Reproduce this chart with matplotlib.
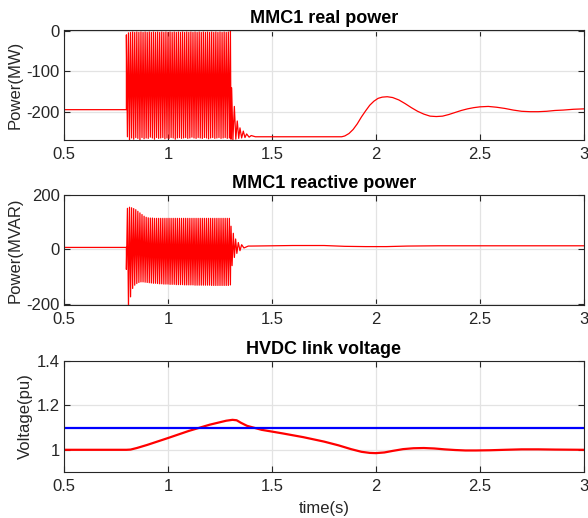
import numpy as np
import matplotlib
matplotlib.use("Agg")
import matplotlib.pyplot as plt

plt.rcParams['font.family'] = ['Liberation Sans', 'DejaVu Sans']
plt.rcParams['axes.unicode_minus'] = False

# ---------------- data ----------------
xticks = [0.5, 1, 1.5, 2, 2.5, 3]
xtick_labels = ["0.5", "1", "1.5", "2", "2.5", "3"]

# MMC1 real power (MW)
rp_pre_t = [0.5, 0.8]
rp_pre = [-195, -195]
# oscillation peaks: upper peaks from 0.800 to 1.300, lower peaks from 0.805 to 1.295
rp_upper = [-10, -5, -4, -3, -4, -3, -4, -3, -4, -3, -4, -3, -4, -3, -4, -3, -4,
            -3, -4, -3, -4, -3, -4, -3, -4, -3, -4, -3, -4, -3, -4, -3, -4, -3,
            -4, -3, -4, -3, -4, -3, -4, -3, -4, -3, -4, -3, -4, -3, -4, -3, 2]
rp_lower = [-262, -272, -265, -268, -264, -266, -270, -264, -267, -265, -266, -263,
            -265, -268, -264, -266, -265, -264, -267, -265, -266, -264, -265, -268,
            -265, -264, -266, -265, -264, -266, -265, -263, -265, -266, -264, -265,
            -266, -264, -265, -267, -265, -264, -266, -265, -264, -266, -265, -264,
            -266, -265]
rp_tail_t = [1.303, 1.306, 1.312, 1.319, 1.326, 1.333, 1.340, 1.346, 1.354, 1.362,
             1.370, 1.378, 1.39, 1.40, 1.42, 1.45]
rp_tail = [-268, -141, -270, -187, -268, -223, -266, -240, -265, -248, -264, -255,
           -263, -259, -262, -262]
rp_post_t = [1.45, 1.80, 1.835, 1.85, 1.87, 1.89, 1.91, 1.93, 1.95, 1.97, 1.99, 2.01,
             2.03, 2.054, 2.08, 2.11, 2.14, 2.17, 2.20, 2.23, 2.26, 2.29, 2.32, 2.35,
             2.38, 2.41, 2.44, 2.47, 2.50, 2.54, 2.58, 2.62, 2.66, 2.70, 2.74, 2.78,
             2.82, 2.86, 2.90, 2.95, 3.0]
rp_post = [-262, -262, -262, -260, -254, -244, -230, -213, -198, -184, -174, -167,
           -164, -163, -165, -171, -180, -190, -199, -206, -211, -212, -211, -207,
           -202, -197, -193, -190, -188, -187, -189, -192, -196, -199, -200, -200,
           -199, -197, -196, -194, -193]

# MMC1 reactive power (MVAR)
rq_pre_t = [0.5, 0.8]
rq_pre = [7, 7]
# oscillation peaks: lower peaks from 0.800 to 1.300, upper peaks from 0.805 to 1.295
rq_lower = [-74, -211, -175, -144, -132, -126, -122, -120, -120, -121, -122, -123,
            -124, -125, -125, -126, -127, -127, -128, -128, -128, -129, -129, -129,
            -130, -130, -130, -130, -131, -131, -131, -131, -131, -132, -132, -132,
            -132, -132, -132, -132, -132, -133, -133, -133, -133, -133, -133, -133,
            -133, -133, -131]
rq_upper = [151, 155, 153, 150, 146, 140, 134, 128, 122, 118, 116, 115, 115, 114,
            114, 114, 114, 114, 114, 114, 114, 114, 114, 114, 114, 114, 114, 114,
            114, 114, 114, 114, 114, 114, 114, 114, 114, 114, 114, 114, 114, 114,
            114, 114, 114, 114, 114, 114, 114, 114]
rq_tail_t = [1.303, 1.308, 1.314, 1.319, 1.325, 1.331, 1.338, 1.346, 1.354, 1.365,
             1.386, 1.40]
rq_tail = [85, -60, 59, -30, 38, -15, 25, -5, 17, 5, 12, 12]
rq_post_t = [1.40, 1.6, 1.75, 1.85, 1.95, 2.05, 2.15, 2.3, 2.6, 3.0]
rq_post = [12, 14, 14, 11, 10, 10, 12, 13, 13, 13]

# HVDC link voltage (pu)
v_t = [0.5, 0.8, 0.82, 0.85, 0.9, 1.0, 1.1, 1.2, 1.28, 1.31, 1.33, 1.35, 1.38, 1.45,
       1.55, 1.65, 1.75, 1.82, 1.88, 1.93, 1.97, 2.0, 2.04, 2.08, 2.13, 2.18, 2.23,
       2.28, 2.33, 2.38, 2.43, 2.48, 2.55, 2.62, 2.7, 2.78, 2.86, 3.0]
v = [1.0, 1.0, 1.001, 1.008, 1.022, 1.053, 1.085, 1.113, 1.131, 1.135, 1.133, 1.122,
     1.108, 1.09, 1.074, 1.057, 1.037, 1.02, 1.003, 0.991, 0.986, 0.985, 0.988, 0.995,
     1.003, 1.007, 1.008, 1.006, 1.002, 0.999, 0.997, 0.997, 0.998, 1.0, 1.002, 1.002,
     1.001, 1.0]
vlim_t = [0.5, 3.0]
vlim = [1.1, 1.1]

# ---------------- assemble series ----------------
def series(pre_t, pre, a, a_start, a_end, b, b_start, b_end, tail_t, tail, post_t, post):
    ta = np.linspace(a_start, a_end, len(a))
    tb = np.linspace(b_start, b_end, len(b))
    bt = np.concatenate([ta, tb])
    by = np.concatenate([a, b])
    order = np.argsort(bt, kind='stable')
    t = np.concatenate([pre_t, bt[order], tail_t, post_t])
    y = np.concatenate([pre, by[order], tail, post])
    return t, y

rp_t, rp = series(rp_pre_t, rp_pre, rp_upper, 0.800, 1.300, rp_lower, 0.805, 1.295,
                  rp_tail_t, rp_tail, rp_post_t, rp_post)
rq_t, rq = series(rq_pre_t, rq_pre, rq_lower, 0.800, 1.300, rq_upper, 0.805, 1.295,
                  rq_tail_t, rq_tail, rq_post_t, rq_post)

# ---------------- figure ----------------
fig = plt.figure(figsize=(5.88, 5.18), dpi=100)
W, H = 588, 518
def add_ax(top, bottom, left=64, right=584):
    return fig.add_axes([left / W, 1 - bottom / H, (right - left) / W, (bottom - top) / H])

ax1 = add_ax(30, 140)
ax2 = add_ax(195, 305)
ax3 = add_ax(361, 472)

tick_color = '#262626'
fs = 12
for ax in (ax1, ax2, ax3):
    ax.set_xlim(0.5, 3)
    ax.set_xticks(xticks)
    ax.set_xticklabels(xtick_labels)
    ax.grid(True, color='#e3e3e3', linewidth=0.9)
    ax.set_axisbelow(True)
    ax.tick_params(direction='in', top=True, right=True, length=4, width=0.8,
                   labelsize=fs, colors=tick_color)
    ax.tick_params(axis='x', pad=5)
    ax.tick_params(axis='y', pad=3)
    for s in ax.spines.values():
        s.set_color(tick_color)
        s.set_linewidth(0.8)

ax1.plot(rp_t, rp, color='red', linewidth=0.9)
ax1.set_ylim(-270, 2)
ax1.set_yticks([-200, -100, 0])
ax1.set_ylabel('Power(MW)', fontsize=fs, color=tick_color, labelpad=3)
ax1.set_title('MMC1 real power', fontsize=13, fontweight='bold', pad=5)

ax2.plot(rq_t, rq, color='red', linewidth=0.9)
ax2.set_ylim(-205, 200)
ax2.set_yticks([-200, 0, 200])
ax2.set_ylabel('Power(MVAR)', fontsize=fs, color=tick_color, labelpad=3)
ax2.set_title('MMC1 reactive power', fontsize=13, fontweight='bold', pad=5)

ax3.plot(v_t, v, color='red', linewidth=1.6)
ax3.plot(vlim_t, vlim, color='blue', linewidth=1.6)
ax3.set_ylim(0.9, 1.4)
ax3.set_yticks([1, 1.2, 1.4])
ax3.set_yticklabels(['1', '1.2', '1.4'])
ax3.set_ylabel('Voltage(pu)', fontsize=fs, color=tick_color, labelpad=3)
ax3.set_xlabel('time(s)', fontsize=fs, color=tick_color, labelpad=5)
ax3.set_title('HVDC link voltage', fontsize=13, fontweight='bold', pad=5)

fig.savefig('out.png', dpi=100)
